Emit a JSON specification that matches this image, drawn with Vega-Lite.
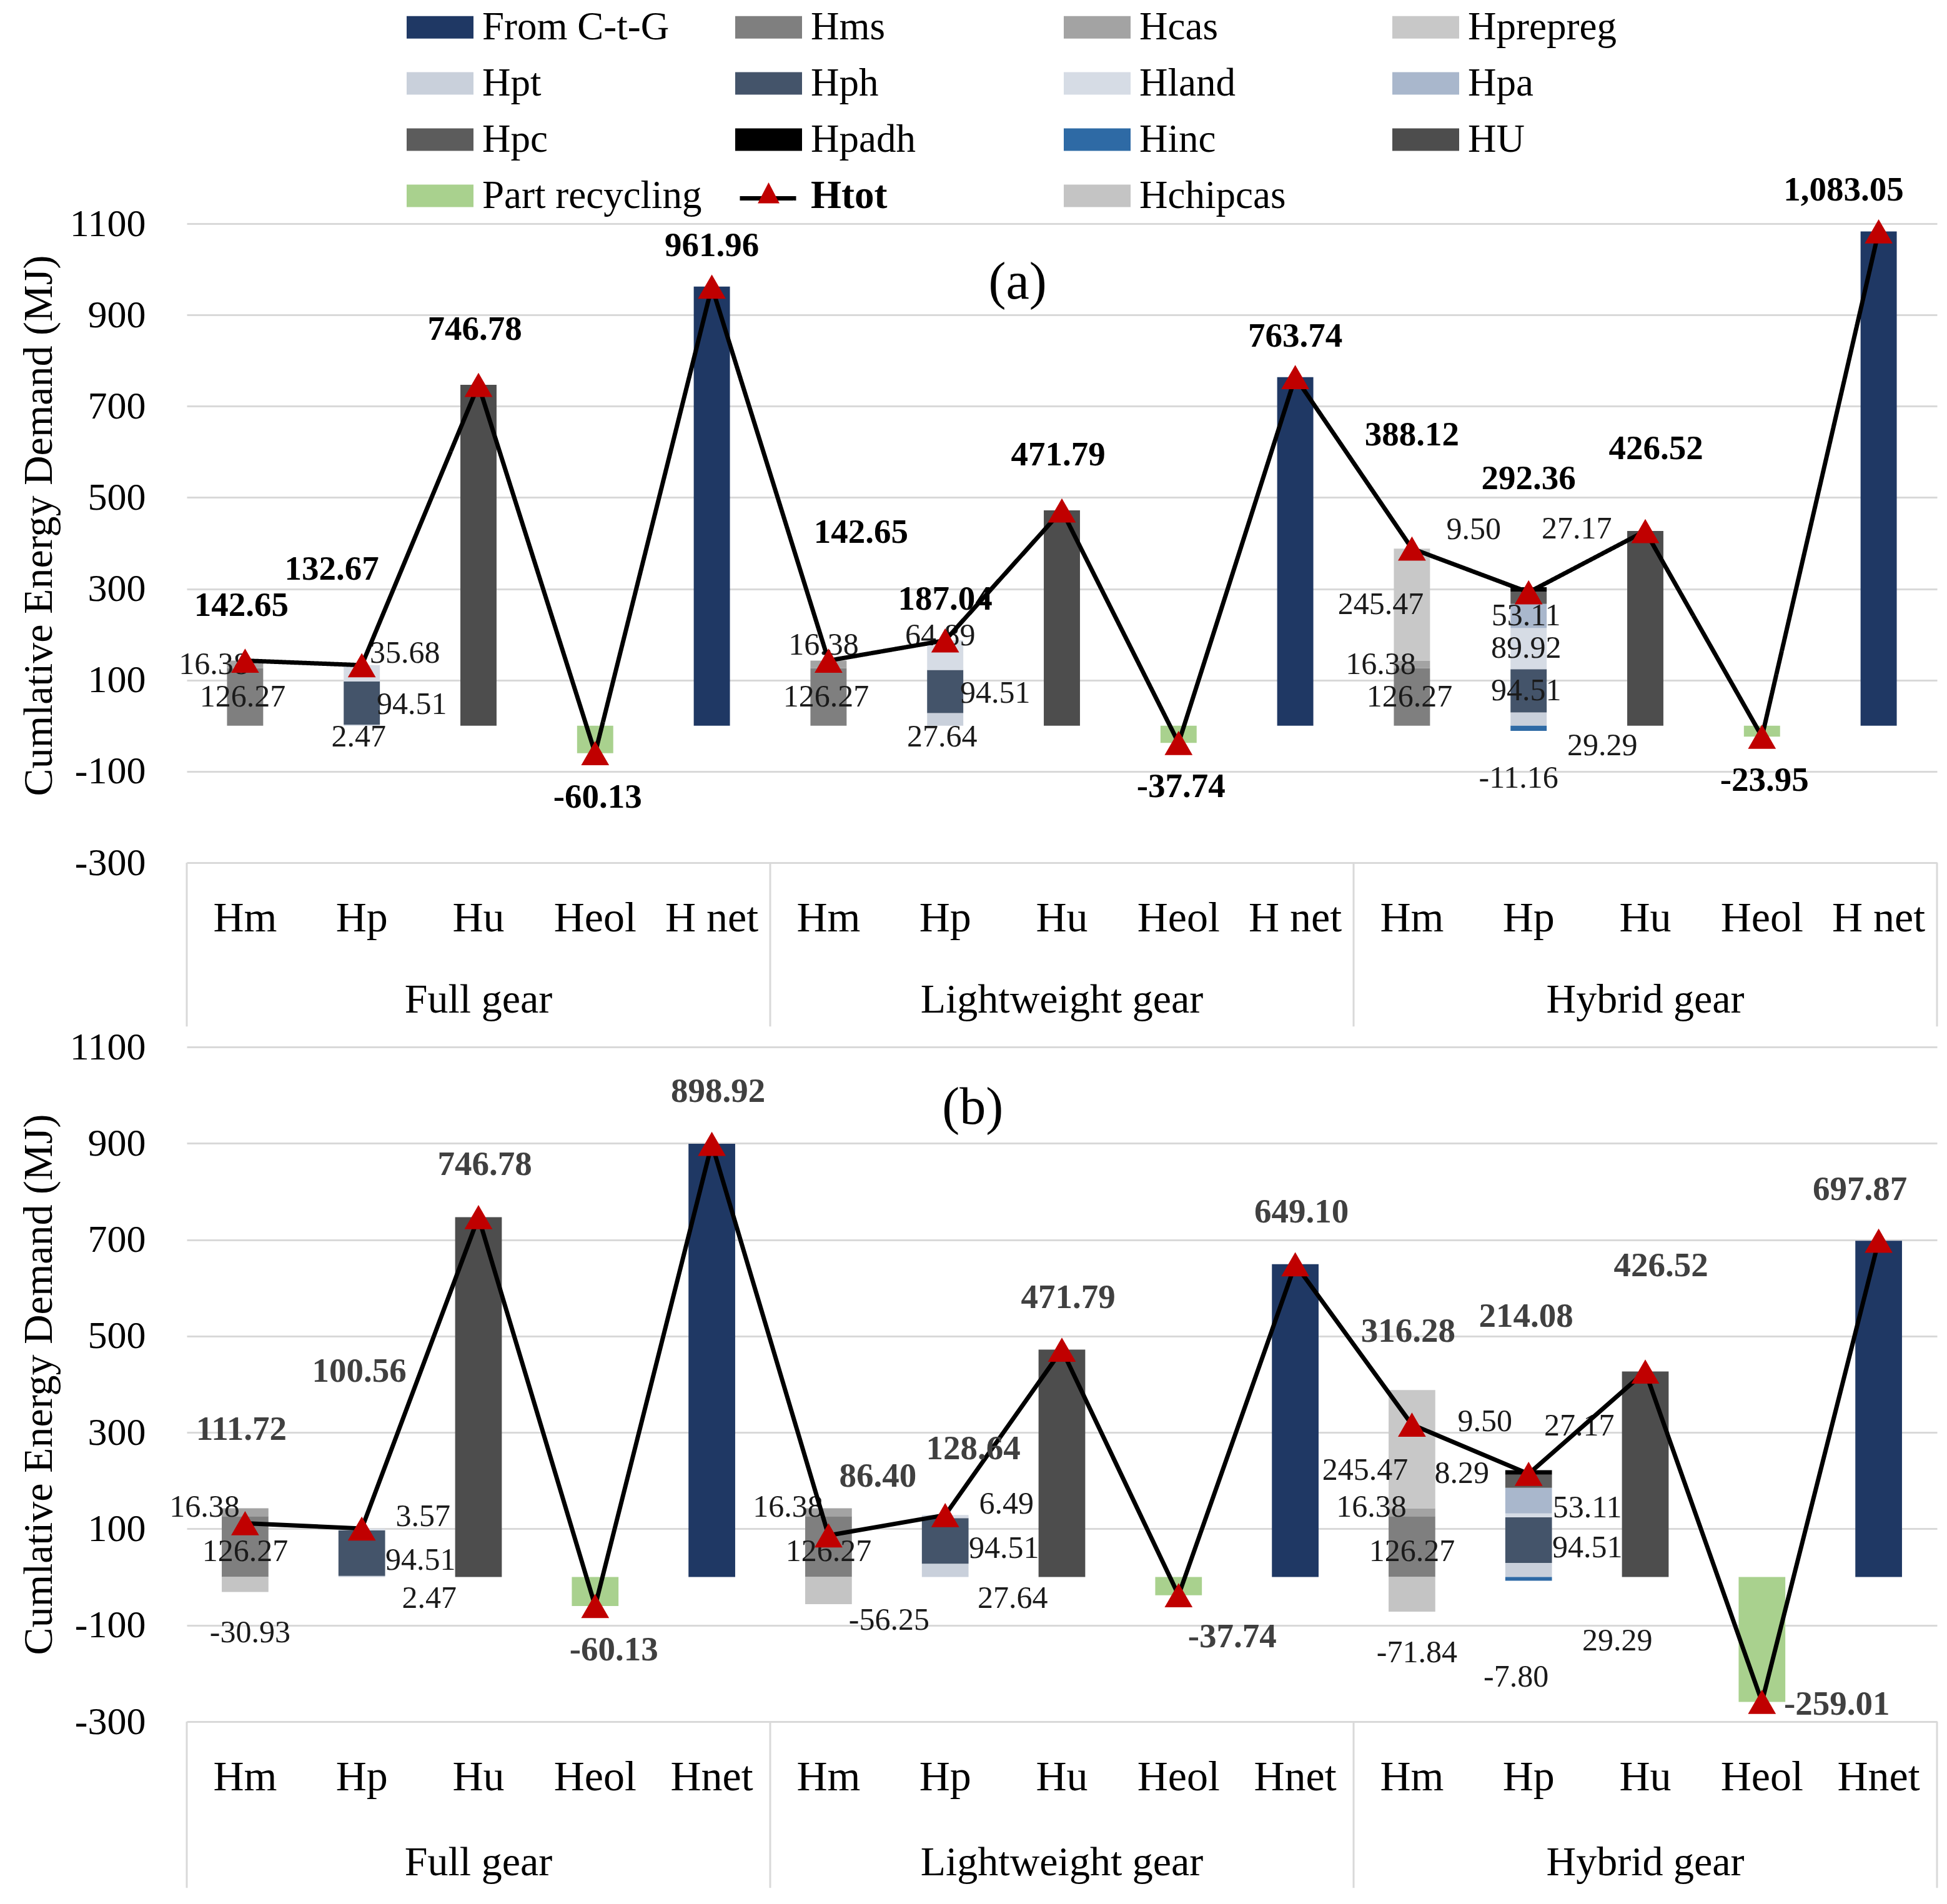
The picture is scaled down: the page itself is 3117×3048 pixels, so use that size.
{
"$schema":"https://vega.github.io/schema/vega-lite/v6.json",
"padding":{"left":29,"top":12,"right":0,"bottom":0},
"background":"#ffffff",
"datasets":{
"comps":[
{"p":"a","cat":"Full gear|Hm","comp":"Hms","v":126.27,"o":1},
{"p":"a","cat":"Full gear|Hm","comp":"Hcas","v":16.38,"o":2},
{"p":"a","cat":"Full gear|Hp","comp":"Hpt","v":2.47,"o":4},
{"p":"a","cat":"Full gear|Hp","comp":"Hph","v":94.51,"o":5},
{"p":"a","cat":"Full gear|Hp","comp":"Hland","v":35.68,"o":6},
{"p":"a","cat":"Full gear|Hu","comp":"HU","v":746.78,"o":11},
{"p":"a","cat":"Full gear|Heol","comp":"Part recycling","v":-60.13,"o":12},
{"p":"a","cat":"Full gear|H net","comp":"From C-t-G","v":961.96,"o":0},
{"p":"a","cat":"Lightweight gear|Hm","comp":"Hms","v":126.27,"o":1},
{"p":"a","cat":"Lightweight gear|Hm","comp":"Hcas","v":16.38,"o":2},
{"p":"a","cat":"Lightweight gear|Hp","comp":"Hpt","v":27.64,"o":4},
{"p":"a","cat":"Lightweight gear|Hp","comp":"Hph","v":94.51,"o":5},
{"p":"a","cat":"Lightweight gear|Hp","comp":"Hland","v":64.89,"o":6},
{"p":"a","cat":"Lightweight gear|Hu","comp":"HU","v":471.79,"o":11},
{"p":"a","cat":"Lightweight gear|Heol","comp":"Part recycling","v":-37.74,"o":12},
{"p":"a","cat":"Lightweight gear|H net","comp":"From C-t-G","v":763.74,"o":0},
{"p":"a","cat":"Hybrid gear|Hm","comp":"Hms","v":126.27,"o":1},
{"p":"a","cat":"Hybrid gear|Hm","comp":"Hcas","v":16.38,"o":2},
{"p":"a","cat":"Hybrid gear|Hm","comp":"Hprepreg","v":245.47,"o":3},
{"p":"a","cat":"Hybrid gear|Hp","comp":"Hpt","v":29.29,"o":4},
{"p":"a","cat":"Hybrid gear|Hp","comp":"Hph","v":94.51,"o":5},
{"p":"a","cat":"Hybrid gear|Hp","comp":"Hland","v":89.92,"o":6},
{"p":"a","cat":"Hybrid gear|Hp","comp":"Hpa","v":53.11,"o":7},
{"p":"a","cat":"Hybrid gear|Hp","comp":"Hpc","v":27.17,"o":8},
{"p":"a","cat":"Hybrid gear|Hp","comp":"Hpadh","v":9.50,"o":9},
{"p":"a","cat":"Hybrid gear|Hp","comp":"Hinc","v":-11.16,"o":10},
{"p":"a","cat":"Hybrid gear|Hu","comp":"HU","v":426.52,"o":11},
{"p":"a","cat":"Hybrid gear|Heol","comp":"Part recycling","v":-23.95,"o":12},
{"p":"a","cat":"Hybrid gear|H net","comp":"From C-t-G","v":1083.05,"o":0},
{"p":"b","cat":"Full gear|Hm","comp":"Hms","v":126.27,"o":1},
{"p":"b","cat":"Full gear|Hm","comp":"Hcas","v":16.38,"o":2},
{"p":"b","cat":"Full gear|Hm","comp":"Hchipcas","v":-30.93,"o":13},
{"p":"b","cat":"Full gear|Hp","comp":"Hpt","v":2.47,"o":4},
{"p":"b","cat":"Full gear|Hp","comp":"Hph","v":94.51,"o":5},
{"p":"b","cat":"Full gear|Hp","comp":"Hland","v":3.57,"o":6},
{"p":"b","cat":"Full gear|Hu","comp":"HU","v":746.78,"o":11},
{"p":"b","cat":"Full gear|Heol","comp":"Part recycling","v":-60.13,"o":12},
{"p":"b","cat":"Full gear|Hnet","comp":"From C-t-G","v":898.92,"o":0},
{"p":"b","cat":"Lightweight gear|Hm","comp":"Hms","v":126.27,"o":1},
{"p":"b","cat":"Lightweight gear|Hm","comp":"Hcas","v":16.38,"o":2},
{"p":"b","cat":"Lightweight gear|Hm","comp":"Hchipcas","v":-56.25,"o":13},
{"p":"b","cat":"Lightweight gear|Hp","comp":"Hpt","v":27.64,"o":4},
{"p":"b","cat":"Lightweight gear|Hp","comp":"Hph","v":94.51,"o":5},
{"p":"b","cat":"Lightweight gear|Hp","comp":"Hland","v":6.49,"o":6},
{"p":"b","cat":"Lightweight gear|Hu","comp":"HU","v":471.79,"o":11},
{"p":"b","cat":"Lightweight gear|Heol","comp":"Part recycling","v":-37.74,"o":12},
{"p":"b","cat":"Lightweight gear|Hnet","comp":"From C-t-G","v":649.10,"o":0},
{"p":"b","cat":"Hybrid gear|Hm","comp":"Hms","v":126.27,"o":1},
{"p":"b","cat":"Hybrid gear|Hm","comp":"Hcas","v":16.38,"o":2},
{"p":"b","cat":"Hybrid gear|Hm","comp":"Hprepreg","v":245.47,"o":3},
{"p":"b","cat":"Hybrid gear|Hm","comp":"Hchipcas","v":-71.84,"o":13},
{"p":"b","cat":"Hybrid gear|Hp","comp":"Hpt","v":29.29,"o":4},
{"p":"b","cat":"Hybrid gear|Hp","comp":"Hph","v":94.51,"o":5},
{"p":"b","cat":"Hybrid gear|Hp","comp":"Hland","v":8.29,"o":6},
{"p":"b","cat":"Hybrid gear|Hp","comp":"Hpa","v":53.11,"o":7},
{"p":"b","cat":"Hybrid gear|Hp","comp":"Hpc","v":27.17,"o":8},
{"p":"b","cat":"Hybrid gear|Hp","comp":"Hpadh","v":9.50,"o":9},
{"p":"b","cat":"Hybrid gear|Hp","comp":"Hinc","v":-7.80,"o":10},
{"p":"b","cat":"Hybrid gear|Hu","comp":"HU","v":426.52,"o":11},
{"p":"b","cat":"Hybrid gear|Heol","comp":"Part recycling","v":-259.01,"o":12},
{"p":"b","cat":"Hybrid gear|Hnet","comp":"From C-t-G","v":697.87,"o":0}
],
"tot":[
{"p":"a","s":"Htot","cat":"Full gear|Hm","v":142.65,"i":0},
{"p":"a","s":"Htot","cat":"Full gear|Hp","v":132.67,"i":1},
{"p":"a","s":"Htot","cat":"Full gear|Hu","v":746.78,"i":2},
{"p":"a","s":"Htot","cat":"Full gear|Heol","v":-60.13,"i":3},
{"p":"a","s":"Htot","cat":"Full gear|H net","v":961.96,"i":4},
{"p":"a","s":"Htot","cat":"Lightweight gear|Hm","v":142.65,"i":5},
{"p":"a","s":"Htot","cat":"Lightweight gear|Hp","v":187.04,"i":6},
{"p":"a","s":"Htot","cat":"Lightweight gear|Hu","v":471.79,"i":7},
{"p":"a","s":"Htot","cat":"Lightweight gear|Heol","v":-37.74,"i":8},
{"p":"a","s":"Htot","cat":"Lightweight gear|H net","v":763.74,"i":9},
{"p":"a","s":"Htot","cat":"Hybrid gear|Hm","v":388.12,"i":10},
{"p":"a","s":"Htot","cat":"Hybrid gear|Hp","v":292.36,"i":11},
{"p":"a","s":"Htot","cat":"Hybrid gear|Hu","v":426.52,"i":12},
{"p":"a","s":"Htot","cat":"Hybrid gear|Heol","v":-23.95,"i":13},
{"p":"a","s":"Htot","cat":"Hybrid gear|H net","v":1083.05,"i":14},
{"p":"b","s":"Htot","cat":"Full gear|Hm","v":111.72,"i":0},
{"p":"b","s":"Htot","cat":"Full gear|Hp","v":100.56,"i":1},
{"p":"b","s":"Htot","cat":"Full gear|Hu","v":746.78,"i":2},
{"p":"b","s":"Htot","cat":"Full gear|Heol","v":-60.13,"i":3},
{"p":"b","s":"Htot","cat":"Full gear|Hnet","v":898.92,"i":4},
{"p":"b","s":"Htot","cat":"Lightweight gear|Hm","v":86.40,"i":5},
{"p":"b","s":"Htot","cat":"Lightweight gear|Hp","v":128.64,"i":6},
{"p":"b","s":"Htot","cat":"Lightweight gear|Hu","v":471.79,"i":7},
{"p":"b","s":"Htot","cat":"Lightweight gear|Heol","v":-37.74,"i":8},
{"p":"b","s":"Htot","cat":"Lightweight gear|Hnet","v":649.10,"i":9},
{"p":"b","s":"Htot","cat":"Hybrid gear|Hm","v":316.28,"i":10},
{"p":"b","s":"Htot","cat":"Hybrid gear|Hp","v":214.08,"i":11},
{"p":"b","s":"Htot","cat":"Hybrid gear|Hu","v":426.52,"i":12},
{"p":"b","s":"Htot","cat":"Hybrid gear|Heol","v":-259.01,"i":13},
{"p":"b","s":"Htot","cat":"Hybrid gear|Hnet","v":697.87,"i":14}
],
"sep":[
{"p":"a","cat":"Full gear|Hm"},{"p":"a","cat":"Lightweight gear|Hm"},{"p":"a","cat":"Hybrid gear|Hm"},
{"p":"b","cat":"Full gear|Hm"},{"p":"b","cat":"Lightweight gear|Hm"},{"p":"b","cat":"Hybrid gear|Hm"}
],
"sepEnd":[{"p":"a","cat":"Hybrid gear|H net"},{"p":"b","cat":"Hybrid gear|Hnet"}],
"grp":[{"g":"Full gear","cat":"Full gear|Hu"},{"g":"Lightweight gear","cat":"Lightweight gear|Hu"},{"g":"Hybrid gear","cat":"Hybrid gear|Hu"}],
"ttl":[{"p":"a","t":"(a)","cat":"Lightweight gear|Hp"},{"p":"b","t":"(b)","cat":"Lightweight gear|Hp"}]
},
"vconcat":[
{
"width":2802,"height":1023,
"encoding":{"x":{"field":"cat","type":"nominal","sort":null,"scale":{"domain":["Full gear|Hm","Full gear|Hp","Full gear|Hu","Full gear|Heol","Full gear|H net","Lightweight gear|Hm","Lightweight gear|Hp","Lightweight gear|Hu","Lightweight gear|Heol","Lightweight gear|H net","Hybrid gear|Hm","Hybrid gear|Hp","Hybrid gear|Hu","Hybrid gear|Heol","Hybrid gear|H net"],"paddingInner":0,"paddingOuter":0},"axis":{"title":null,"domain":false,"ticks":false,"grid":false,"labelAngle":0,"labelExpr":"split(datum.value,'|')[1]","labelFontSize":68,"labelPadding":55,"labelColor":"#000000","labelLimit":0}}},
"layer":[
{"data":{"name":"comps"},"transform":[{"filter":"datum.p==='a'"}],
"layer":[
{"mark":{"type":"bar","width":{"band":0.31}},
"encoding":{
"y":{"field":"v","type":"quantitative","stack":"zero","scale":{"domain":[-300,1100],"nice":false,"zero":false},
"axis":{"title":"Cumlative Energy Demand (MJ)","values":[-300,-100,100,300,500,700,900,1100],"format":"d","domain":false,"ticks":false,"grid":true,"gridColor":"#d9d9d9","gridWidth":3,"labelFontSize":62,"labelPadding":66,"labelColor":"#000000","titleFontSize":66,"titleFontWeight":"normal","titleColor":"#000000","titlePadding":15,"titleY":483}},
"color":{"field":"comp","type":"nominal",
"scale":{"domain":["From C-t-G","Hpt","Hpc","Part recycling","Hms","Hph","Hpadh","Htot","Hcas","Hland","Hinc","Hchipcas","Hprepreg","Hpa","HU"],
"range":["#1f3864","#c9d0db","#5c5c5c","#a9d18e","#7f7f7f","#44546a","#000000","transparent","#a3a3a3","#d6dce5","#2e6aa5","#c4c4c4","#c8c8c8","#a9b7cc","#4d4d4d"]},
"legend":{"orient":"none","legendX":374,"legendY":-346,"columns":4,"title":null,"symbolType":"M-2,-0.67H2V0.67H-2Z","symbolSize":2862,"symbolStrokeWidth":0,"labelFontSize":63,"labelFont":"Liberation Serif","labelColor":"#000000","labelOffset":36,"columnPadding":53,"rowPadding":26,"gridAlign":"all","labelLimit":0,"padding":0,"labelExpr":"datum.label==='Htot'?'':datum.label"}},
"order":{"field":"o","type":"quantitative"}}},
{"mark":{"type":"text","fontSize":50,"color":"#1a1a1a","dx":-4,"dy":0},"encoding":{"y":{"field":"v","type":"quantitative","stack":"zero","bandPosition":0.5,"scale":{"domain":[-300,1100],"nice":false,"zero":false}},"detail":{"field":"comp","type":"nominal"},"order":{"field":"o","type":"quantitative"},"text":{"field":"v","type":"quantitative","format":",.2f"},"opacity":{"condition":{"test":"datum.comp==='Hms' || (datum.cat==='Hybrid gear|Hp' && (datum.comp==='Hph' || datum.comp==='Hland' || datum.comp==='Hpa'))","value":1},"value":0}}},
{"mark":{"type":"text","fontSize":50,"color":"#1a1a1a","dx":-50,"dy":0},"encoding":{"y":{"field":"v","type":"quantitative","stack":"zero","bandPosition":0.5,"scale":{"domain":[-300,1100],"nice":false,"zero":false}},"detail":{"field":"comp","type":"nominal"},"order":{"field":"o","type":"quantitative"},"text":{"field":"v","type":"quantitative","format":",.2f"},"opacity":{"condition":{"test":"(datum.comp==='Hcas' && datum.cat!=='Lightweight gear|Hm') || datum.comp==='Hprepreg'","value":1},"value":0}}},
{"mark":{"type":"text","fontSize":50,"color":"#1a1a1a","dx":-8,"dy":-31},"encoding":{"y":{"field":"v","type":"quantitative","stack":"zero","bandPosition":0.5,"scale":{"domain":[-300,1100],"nice":false,"zero":false}},"detail":{"field":"comp","type":"nominal"},"order":{"field":"o","type":"quantitative"},"text":{"field":"v","type":"quantitative","format":",.2f"},"opacity":{"condition":{"test":"(datum.cat==='Lightweight gear|Hm' && datum.comp==='Hcas') || (datum.cat==='Lightweight gear|Hp' && datum.comp==='Hland')","value":1},"value":0}}},
{"mark":{"type":"text","fontSize":50,"color":"#1a1a1a","dx":80,"dy":3},"encoding":{"y":{"field":"v","type":"quantitative","stack":"zero","bandPosition":0.5,"scale":{"domain":[-300,1100],"nice":false,"zero":false}},"detail":{"field":"comp","type":"nominal"},"order":{"field":"o","type":"quantitative"},"text":{"field":"v","type":"quantitative","format":",.2f"},"opacity":{"condition":{"test":"datum.comp==='Hph' && datum.cat!=='Hybrid gear|Hp'","value":1},"value":0}}},
{"mark":{"type":"text","fontSize":50,"color":"#1a1a1a","dx":69,"dy":-32},"encoding":{"y":{"field":"v","type":"quantitative","stack":"zero","bandPosition":0.5,"scale":{"domain":[-300,1100],"nice":false,"zero":false}},"detail":{"field":"comp","type":"nominal"},"order":{"field":"o","type":"quantitative"},"text":{"field":"v","type":"quantitative","format":",.2f"},"opacity":{"condition":{"test":"datum.cat==='Full gear|Hp' && datum.comp==='Hland'","value":1},"value":0}}},
{"mark":{"type":"text","fontSize":50,"color":"#1a1a1a","dx":-5,"dy":18},"encoding":{"y":{"field":"v","type":"quantitative","stack":"zero","bandPosition":0,"scale":{"domain":[-300,1100],"nice":false,"zero":false}},"detail":{"field":"comp","type":"nominal"},"order":{"field":"o","type":"quantitative"},"text":{"field":"v","type":"quantitative","format":",.2f"},"opacity":{"condition":{"test":"datum.comp==='Hpt' && datum.cat!=='Hybrid gear|Hp'","value":1},"value":0}}},
{"mark":{"type":"text","fontSize":50,"color":"#1a1a1a","dx":118,"dy":32},"encoding":{"y":{"field":"v","type":"quantitative","stack":"zero","bandPosition":0,"scale":{"domain":[-300,1100],"nice":false,"zero":false}},"detail":{"field":"comp","type":"nominal"},"order":{"field":"o","type":"quantitative"},"text":{"field":"v","type":"quantitative","format":",.2f"},"opacity":{"condition":{"test":"datum.comp==='Hpt' && datum.cat==='Hybrid gear|Hp'","value":1},"value":0}}},
{"mark":{"type":"text","fontSize":50,"color":"#1a1a1a","dx":-16,"dy":76},"encoding":{"y":{"field":"v","type":"quantitative","stack":"zero","bandPosition":1,"scale":{"domain":[-300,1100],"nice":false,"zero":false}},"detail":{"field":"comp","type":"nominal"},"order":{"field":"o","type":"quantitative"},"text":{"field":"v","type":"quantitative","format":",.2f"},"opacity":{"condition":{"test":"datum.comp==='Hinc'","value":1},"value":0}}},
{"mark":{"type":"text","fontSize":50,"color":"#1a1a1a","dx":77,"dy":-110},"encoding":{"y":{"field":"v","type":"quantitative","stack":"zero","bandPosition":0.5,"scale":{"domain":[-300,1100],"nice":false,"zero":false}},"detail":{"field":"comp","type":"nominal"},"order":{"field":"o","type":"quantitative"},"text":{"field":"v","type":"quantitative","format":",.2f"},"opacity":{"condition":{"test":"datum.comp==='Hpc'","value":1},"value":0}}},
{"mark":{"type":"text","fontSize":50,"color":"#1a1a1a","dx":-88,"dy":-95},"encoding":{"y":{"field":"v","type":"quantitative","stack":"zero","bandPosition":0.5,"scale":{"domain":[-300,1100],"nice":false,"zero":false}},"detail":{"field":"comp","type":"nominal"},"order":{"field":"o","type":"quantitative"},"text":{"field":"v","type":"quantitative","format":",.2f"},"opacity":{"condition":{"test":"datum.comp==='Hpadh'","value":1},"value":0}}}
]},
{"data":{"name":"tot"},"transform":[{"filter":"datum.p==='a'"}],
"layer":[
{"mark":{"type":"line","color":"#000000","strokeWidth":7},"encoding":{"y":{"field":"v","type":"quantitative","scale":{"domain":[-300,1100],"nice":false,"zero":false}},"order":{"field":"i","type":"quantitative"},"strokeDash":{"field":"s","type":"nominal","scale":{"range":[[1,0]]},"legend":{"orient":"none","legendX":882,"legendY":-89,"title":null,"symbolSize":8100,"symbolStrokeWidth":7,"symbolStrokeColor":"#000000","symbolOpacity":1,"labelExpr":"''","labelFontSize":63,"padding":0}}}},
{"mark":{"type":"point","shape":"triangle-up","filled":true,"size":2000,"color":"#c00000","opacity":1,"strokeWidth":0},"encoding":{"y":{"field":"v","type":"quantitative","scale":{"domain":[-300,1100],"nice":false,"zero":false}}}},
{"mark":{"type":"point","filled":true,"opacity":0,"color":"#c00000"},"encoding":{"y":{"field":"v","type":"quantitative","scale":{"domain":[-300,1100],"nice":false,"zero":false}},"shape":{"field":"s","type":"nominal","scale":{"domain":["Htot"],"range":["M0,-0.8L0.65,0.45H-0.65Z"]},"legend":{"orient":"none","legendX":900,"legendY":-76,"title":null,"symbolSize":2862,"symbolFillColor":"#c00000","symbolStrokeWidth":0,"symbolOpacity":1,"labelFontSize":63,"labelFont":"Liberation Serif","labelFontWeight":"bold","labelColor":"#000000","labelOffset":36,"padding":0}}}},
{"transform":[{"filter":{"field":"cat","oneOf":["Full gear|H net","Lightweight gear|Hp","Lightweight gear|H net"]}}],"mark":{"type":"text","fontSize":55,"fontWeight":"bold","color":"#000000","dx":0,"dy":-66},"encoding":{"y":{"field":"v","type":"quantitative","scale":{"domain":[-300,1100],"nice":false,"zero":false}},"text":{"field":"v","type":"quantitative","format":",.2f"}}},
{"transform":[{"filter":{"field":"cat","oneOf":["Full gear|Hu","Lightweight gear|Hu","Full gear|Hm"]}}],"mark":{"type":"text","fontSize":55,"fontWeight":"bold","color":"#000000","dx":-6,"dy":-89},"encoding":{"y":{"field":"v","type":"quantitative","scale":{"domain":[-300,1100],"nice":false,"zero":false}},"text":{"field":"v","type":"quantitative","format":",.2f"}}},
{"transform":[{"filter":{"field":"cat","oneOf":["Hybrid gear|Hm","Hybrid gear|Hp"]}}],"mark":{"type":"text","fontSize":55,"fontWeight":"bold","color":"#000000","dx":0,"dy":-182},"encoding":{"y":{"field":"v","type":"quantitative","scale":{"domain":[-300,1100],"nice":false,"zero":false}},"text":{"field":"v","type":"quantitative","format":",.2f"}}},
{"transform":[{"filter":{"field":"cat","oneOf":["Full gear|Hp"]}}],"mark":{"type":"text","fontSize":55,"fontWeight":"bold","color":"#000000","dx":-48,"dy":-154},"encoding":{"y":{"field":"v","type":"quantitative","scale":{"domain":[-300,1100],"nice":false,"zero":false}},"text":{"field":"v","type":"quantitative","format":",.2f"}}},
{"transform":[{"filter":{"field":"cat","oneOf":["Lightweight gear|Hm"]}}],"mark":{"type":"text","fontSize":55,"fontWeight":"bold","color":"#000000","dx":52,"dy":-206},"encoding":{"y":{"field":"v","type":"quantitative","scale":{"domain":[-300,1100],"nice":false,"zero":false}},"text":{"field":"v","type":"quantitative","format":",.2f"}}},
{"transform":[{"filter":{"field":"cat","oneOf":["Hybrid gear|Hu"]}}],"mark":{"type":"text","fontSize":55,"fontWeight":"bold","color":"#000000","dx":17,"dy":-132},"encoding":{"y":{"field":"v","type":"quantitative","scale":{"domain":[-300,1100],"nice":false,"zero":false}},"text":{"field":"v","type":"quantitative","format":",.2f"}}},
{"transform":[{"filter":{"field":"cat","oneOf":["Hybrid gear|H net"]}}],"mark":{"type":"text","fontSize":55,"fontWeight":"bold","color":"#000000","dx":-56,"dy":-66},"encoding":{"y":{"field":"v","type":"quantitative","scale":{"domain":[-300,1100],"nice":false,"zero":false}},"text":{"field":"v","type":"quantitative","format":",.2f"}}},
{"transform":[{"filter":{"field":"cat","oneOf":["Full gear|Heol","Lightweight gear|Heol","Hybrid gear|Heol"]}}],"mark":{"type":"text","fontSize":55,"fontWeight":"bold","color":"#000000","dx":4,"dy":70},"encoding":{"y":{"field":"v","type":"quantitative","scale":{"domain":[-300,1100],"nice":false,"zero":false}},"text":{"field":"v","type":"quantitative","format":",.2f"}}}
]},
{"data":{"name":"sep"},"transform":[{"filter":"datum.p==='a'"}],"mark":{"type":"rule","color":"#d9d9d9","strokeWidth":3},"encoding":{"x":{"field":"cat","type":"nominal","bandPosition":0},"y":{"datum":-300,"type":"quantitative","scale":{"domain":[-300,1100],"nice":false,"zero":false}},"y2":{"datum":-659}}},
{"data":{"name":"sepEnd"},"transform":[{"filter":"datum.p==='a'"}],"mark":{"type":"rule","color":"#d9d9d9","strokeWidth":3},"encoding":{"x":{"field":"cat","type":"nominal","bandPosition":1},"y":{"datum":-300,"type":"quantitative","scale":{"domain":[-300,1100],"nice":false,"zero":false}},"y2":{"datum":-659}}},
{"data":{"name":"grp"},"mark":{"type":"text","fontSize":66,"color":"#000000"},"encoding":{"x":{"field":"cat","type":"nominal"},"y":{"datum":-601,"type":"quantitative","scale":{"domain":[-300,1100],"nice":false,"zero":false}},"text":{"field":"g","type":"nominal"}}},
{"data":{"name":"ttl"},"transform":[{"filter":"datum.p==='a'"}],"mark":{"type":"text","fontSize":84,"color":"#000000","dx":116},"encoding":{"x":{"field":"cat","type":"nominal"},"y":{"datum":970,"type":"quantitative","scale":{"domain":[-300,1100],"nice":false,"zero":false}},"text":{"field":"t","type":"nominal"}}}
]
},
{
"width":2802,"height":1080,
"encoding":{"x":{"field":"cat","type":"nominal","sort":null,"scale":{"domain":["Full gear|Hm","Full gear|Hp","Full gear|Hu","Full gear|Heol","Full gear|Hnet","Lightweight gear|Hm","Lightweight gear|Hp","Lightweight gear|Hu","Lightweight gear|Heol","Lightweight gear|Hnet","Hybrid gear|Hm","Hybrid gear|Hp","Hybrid gear|Hu","Hybrid gear|Heol","Hybrid gear|Hnet"],"paddingInner":0,"paddingOuter":0},"axis":{"title":null,"domain":false,"ticks":false,"grid":false,"labelAngle":0,"labelExpr":"split(datum.value,'|')[1]","labelFontSize":68,"labelPadding":55,"labelColor":"#000000","labelLimit":0}}},
"layer":[
{"data":{"name":"comps"},"transform":[{"filter":"datum.p==='b'"}],
"layer":[
{"mark":{"type":"bar","width":{"band":0.4}},
"encoding":{
"y":{"field":"v","type":"quantitative","stack":"zero","scale":{"domain":[-300,1100],"nice":false,"zero":false},
"axis":{"title":"Cumlative Energy Demand (MJ)","values":[-300,-100,100,300,500,700,900,1100],"format":"d","domain":false,"ticks":false,"grid":true,"gridColor":"#d9d9d9","gridWidth":3,"labelFontSize":62,"labelPadding":66,"labelColor":"#000000","titleFontSize":66,"titleFontWeight":"normal","titleColor":"#000000","titlePadding":15}},
"color":{"field":"comp","type":"nominal",
"scale":{"domain":["From C-t-G","Hpt","Hpc","Part recycling","Hms","Hph","Hpadh","Htot","Hcas","Hland","Hinc","Hchipcas","Hprepreg","Hpa","HU"],
"range":["#1f3864","#c9d0db","#5c5c5c","#a9d18e","#7f7f7f","#44546a","#000000","transparent","#a3a3a3","#d6dce5","#2e6aa5","#c4c4c4","#c8c8c8","#a9b7cc","#4d4d4d"]},
"legend":null},
"order":{"field":"o","type":"quantitative"}}},
{"mark":{"type":"text","fontSize":50,"color":"#1a1a1a","dx":0,"dy":8},"encoding":{"y":{"field":"v","type":"quantitative","stack":"zero","bandPosition":0.5,"scale":{"domain":[-300,1100],"nice":false,"zero":false}},"detail":{"field":"comp","type":"nominal"},"order":{"field":"o","type":"quantitative"},"text":{"field":"v","type":"quantitative","format":",.2f"},"opacity":{"condition":{"test":"datum.comp==='Hms'","value":1},"value":0}}},
{"mark":{"type":"text","fontSize":50,"color":"#1a1a1a","dx":-65,"dy":-8},"encoding":{"y":{"field":"v","type":"quantitative","stack":"zero","bandPosition":0.5,"scale":{"domain":[-300,1100],"nice":false,"zero":false}},"detail":{"field":"comp","type":"nominal"},"order":{"field":"o","type":"quantitative"},"text":{"field":"v","type":"quantitative","format":",.2f"},"opacity":{"condition":{"test":"datum.comp==='Hcas'","value":1},"value":0}}},
{"mark":{"type":"text","fontSize":50,"color":"#1a1a1a","dx":-75,"dy":34},"encoding":{"y":{"field":"v","type":"quantitative","stack":"zero","bandPosition":0.5,"scale":{"domain":[-300,1100],"nice":false,"zero":false}},"detail":{"field":"comp","type":"nominal"},"order":{"field":"o","type":"quantitative"},"text":{"field":"v","type":"quantitative","format":",.2f"},"opacity":{"condition":{"test":"datum.comp==='Hprepreg'","value":1},"value":0}}},
{"mark":{"type":"text","fontSize":50,"color":"#1a1a1a","dx":94,"dy":12},"encoding":{"y":{"field":"v","type":"quantitative","stack":"zero","bandPosition":0.5,"scale":{"domain":[-300,1100],"nice":false,"zero":false}},"detail":{"field":"comp","type":"nominal"},"order":{"field":"o","type":"quantitative"},"text":{"field":"v","type":"quantitative","format":",.2f"},"opacity":{"condition":{"test":"datum.comp==='Hph' || datum.comp==='Hpa'","value":1},"value":0}}},
{"mark":{"type":"text","fontSize":50,"color":"#1a1a1a","dx":98,"dy":-20},"encoding":{"y":{"field":"v","type":"quantitative","stack":"zero","bandPosition":0.5,"scale":{"domain":[-300,1100],"nice":false,"zero":false}},"detail":{"field":"comp","type":"nominal"},"order":{"field":"o","type":"quantitative"},"text":{"field":"v","type":"quantitative","format":",.2f"},"opacity":{"condition":{"test":"datum.comp==='Hland' && datum.cat!=='Hybrid gear|Hp'","value":1},"value":0}}},
{"mark":{"type":"text","fontSize":50,"color":"#1a1a1a","dx":8,"dy":66},"encoding":{"y":{"field":"v","type":"quantitative","stack":"zero","bandPosition":1,"scale":{"domain":[-300,1100],"nice":false,"zero":false}},"detail":{"field":"comp","type":"nominal"},"order":{"field":"o","type":"quantitative"},"text":{"field":"v","type":"quantitative","format":",.2f"},"opacity":{"condition":{"test":"datum.comp==='Hchipcas' && datum.cat!=='Lightweight gear|Hm'","value":1},"value":0}}},
{"mark":{"type":"text","fontSize":50,"color":"#1a1a1a","dx":97,"dy":26},"encoding":{"y":{"field":"v","type":"quantitative","stack":"zero","bandPosition":1,"scale":{"domain":[-300,1100],"nice":false,"zero":false}},"detail":{"field":"comp","type":"nominal"},"order":{"field":"o","type":"quantitative"},"text":{"field":"v","type":"quantitative","format":",.2f"},"opacity":{"condition":{"test":"datum.comp==='Hchipcas' && datum.cat==='Lightweight gear|Hm'","value":1},"value":0}}},
{"mark":{"type":"text","fontSize":50,"color":"#1a1a1a","dx":-20,"dy":154},"encoding":{"y":{"field":"v","type":"quantitative","stack":"zero","bandPosition":1,"scale":{"domain":[-300,1100],"nice":false,"zero":false}},"detail":{"field":"comp","type":"nominal"},"order":{"field":"o","type":"quantitative"},"text":{"field":"v","type":"quantitative","format":",.2f"},"opacity":{"condition":{"test":"datum.comp==='Hinc'","value":1},"value":0}}},
{"mark":{"type":"text","fontSize":50,"color":"#1a1a1a","dx":108,"dy":34},"encoding":{"y":{"field":"v","type":"quantitative","stack":"zero","bandPosition":0,"scale":{"domain":[-300,1100],"nice":false,"zero":false}},"detail":{"field":"comp","type":"nominal"},"order":{"field":"o","type":"quantitative"},"text":{"field":"v","type":"quantitative","format":",.2f"},"opacity":{"condition":{"test":"datum.comp==='Hpt' && datum.cat!=='Hybrid gear|Hp'","value":1},"value":0}}},
{"mark":{"type":"text","fontSize":50,"color":"#1a1a1a","dx":142,"dy":102},"encoding":{"y":{"field":"v","type":"quantitative","stack":"zero","bandPosition":0,"scale":{"domain":[-300,1100],"nice":false,"zero":false}},"detail":{"field":"comp","type":"nominal"},"order":{"field":"o","type":"quantitative"},"text":{"field":"v","type":"quantitative","format":",.2f"},"opacity":{"condition":{"test":"datum.comp==='Hpt' && datum.cat==='Hybrid gear|Hp'","value":1},"value":0}}},
{"mark":{"type":"text","fontSize":50,"color":"#1a1a1a","dx":-107,"dy":-67},"encoding":{"y":{"field":"v","type":"quantitative","stack":"zero","bandPosition":0.5,"scale":{"domain":[-300,1100],"nice":false,"zero":false}},"detail":{"field":"comp","type":"nominal"},"order":{"field":"o","type":"quantitative"},"text":{"field":"v","type":"quantitative","format":",.2f"},"opacity":{"condition":{"test":"datum.comp==='Hland' && datum.cat==='Hybrid gear|Hp'","value":1},"value":0}}},
{"mark":{"type":"text","fontSize":50,"color":"#1a1a1a","dx":81,"dy":-88},"encoding":{"y":{"field":"v","type":"quantitative","stack":"zero","bandPosition":0.5,"scale":{"domain":[-300,1100],"nice":false,"zero":false}},"detail":{"field":"comp","type":"nominal"},"order":{"field":"o","type":"quantitative"},"text":{"field":"v","type":"quantitative","format":",.2f"},"opacity":{"condition":{"test":"datum.comp==='Hpc'","value":1},"value":0}}},
{"mark":{"type":"text","fontSize":50,"color":"#1a1a1a","dx":-70,"dy":-81},"encoding":{"y":{"field":"v","type":"quantitative","stack":"zero","bandPosition":0.5,"scale":{"domain":[-300,1100],"nice":false,"zero":false}},"detail":{"field":"comp","type":"nominal"},"order":{"field":"o","type":"quantitative"},"text":{"field":"v","type":"quantitative","format":",.2f"},"opacity":{"condition":{"test":"datum.comp==='Hpadh'","value":1},"value":0}}}
]},
{"data":{"name":"tot"},"transform":[{"filter":"datum.p==='b'"}],
"layer":[
{"mark":{"type":"line","color":"#000000","strokeWidth":7},"encoding":{"y":{"field":"v","type":"quantitative","scale":{"domain":[-300,1100],"nice":false,"zero":false}},"order":{"field":"i","type":"quantitative"}}},
{"mark":{"type":"point","shape":"triangle-up","filled":true,"size":2000,"color":"#c00000","opacity":1,"strokeWidth":0},"encoding":{"y":{"field":"v","type":"quantitative","scale":{"domain":[-300,1100],"nice":false,"zero":false}}}},
{"transform":[{"filter":{"field":"cat","oneOf":["Full gear|Hu","Full gear|Hnet","Lightweight gear|Hu","Lightweight gear|Hnet"]}}],"mark":{"type":"text","fontSize":55,"fontWeight":"bold","color":"#404040","dx":10,"dy":-84},"encoding":{"y":{"field":"v","type":"quantitative","scale":{"domain":[-300,1100],"nice":false,"zero":false}},"text":{"field":"v","type":"quantitative","format":",.2f"}}},
{"transform":[{"filter":{"field":"cat","oneOf":["Full gear|Hm","Hybrid gear|Hm"]}}],"mark":{"type":"text","fontSize":55,"fontWeight":"bold","color":"#404040","dx":-6,"dy":-150},"encoding":{"y":{"field":"v","type":"quantitative","scale":{"domain":[-300,1100],"nice":false,"zero":false}},"text":{"field":"v","type":"quantitative","format":",.2f"}}},
{"transform":[{"filter":{"field":"cat","oneOf":["Full gear|Hp","Hybrid gear|Hp"]}}],"mark":{"type":"text","fontSize":55,"fontWeight":"bold","color":"#404040","dx":-4,"dy":-252},"encoding":{"y":{"field":"v","type":"quantitative","scale":{"domain":[-300,1100],"nice":false,"zero":false}},"text":{"field":"v","type":"quantitative","format":",.2f"}}},
{"transform":[{"filter":{"field":"cat","oneOf":["Lightweight gear|Hm"]}}],"mark":{"type":"text","fontSize":55,"fontWeight":"bold","color":"#404040","dx":79,"dy":-95},"encoding":{"y":{"field":"v","type":"quantitative","scale":{"domain":[-300,1100],"nice":false,"zero":false}},"text":{"field":"v","type":"quantitative","format":",.2f"}}},
{"transform":[{"filter":{"field":"cat","oneOf":["Lightweight gear|Hp"]}}],"mark":{"type":"text","fontSize":55,"fontWeight":"bold","color":"#404040","dx":45,"dy":-106},"encoding":{"y":{"field":"v","type":"quantitative","scale":{"domain":[-300,1100],"nice":false,"zero":false}},"text":{"field":"v","type":"quantitative","format":",.2f"}}},
{"transform":[{"filter":{"field":"cat","oneOf":["Hybrid gear|Hu"]}}],"mark":{"type":"text","fontSize":55,"fontWeight":"bold","color":"#404040","dx":25,"dy":-170},"encoding":{"y":{"field":"v","type":"quantitative","scale":{"domain":[-300,1100],"nice":false,"zero":false}},"text":{"field":"v","type":"quantitative","format":",.2f"}}},
{"transform":[{"filter":{"field":"cat","oneOf":["Hybrid gear|Hnet"]}}],"mark":{"type":"text","fontSize":55,"fontWeight":"bold","color":"#404040","dx":-30,"dy":-82},"encoding":{"y":{"field":"v","type":"quantitative","scale":{"domain":[-300,1100],"nice":false,"zero":false}},"text":{"field":"v","type":"quantitative","format":",.2f"}}},
{"transform":[{"filter":{"field":"cat","oneOf":["Full gear|Heol"]}}],"mark":{"type":"text","fontSize":55,"fontWeight":"bold","color":"#404040","dx":30,"dy":70},"encoding":{"y":{"field":"v","type":"quantitative","scale":{"domain":[-300,1100],"nice":false,"zero":false}},"text":{"field":"v","type":"quantitative","format":",.2f"}}},
{"transform":[{"filter":{"field":"cat","oneOf":["Lightweight gear|Heol"]}}],"mark":{"type":"text","fontSize":55,"fontWeight":"bold","color":"#404040","dx":86,"dy":66},"encoding":{"y":{"field":"v","type":"quantitative","scale":{"domain":[-300,1100],"nice":false,"zero":false}},"text":{"field":"v","type":"quantitative","format":",.2f"}}},
{"transform":[{"filter":{"field":"cat","oneOf":["Hybrid gear|Heol"]}}],"mark":{"type":"text","fontSize":55,"fontWeight":"bold","color":"#404040","dx":120,"dy":4},"encoding":{"y":{"field":"v","type":"quantitative","scale":{"domain":[-300,1100],"nice":false,"zero":false}},"text":{"field":"v","type":"quantitative","format":",.2f"}}}
]},
{"data":{"name":"sep"},"transform":[{"filter":"datum.p==='b'"}],"mark":{"type":"rule","color":"#d9d9d9","strokeWidth":3},"encoding":{"x":{"field":"cat","type":"nominal","bandPosition":0},"y":{"datum":-300,"type":"quantitative","scale":{"domain":[-300,1100],"nice":false,"zero":false}},"y2":{"datum":-645}}},
{"data":{"name":"sepEnd"},"transform":[{"filter":"datum.p==='b'"}],"mark":{"type":"rule","color":"#d9d9d9","strokeWidth":3},"encoding":{"x":{"field":"cat","type":"nominal","bandPosition":1},"y":{"datum":-300,"type":"quantitative","scale":{"domain":[-300,1100],"nice":false,"zero":false}},"y2":{"datum":-645}}},
{"data":{"name":"grp"},"mark":{"type":"text","fontSize":66,"color":"#000000"},"encoding":{"x":{"field":"cat","type":"nominal"},"y":{"datum":-593,"type":"quantitative","scale":{"domain":[-300,1100],"nice":false,"zero":false}},"text":{"field":"g","type":"nominal"}}},
{"data":{"name":"ttl"},"transform":[{"filter":"datum.p==='b'"}],"mark":{"type":"text","fontSize":84,"color":"#000000","dx":44},"encoding":{"x":{"field":"cat","type":"nominal"},"y":{"datum":973,"type":"quantitative","scale":{"domain":[-300,1100],"nice":false,"zero":false}},"text":{"field":"t","type":"nominal"}}}
]
}
],
"spacing":0,
"resolve":{"scale":{"color":"independent"},"legend":{"color":"independent"}},
"config":{
"font":"Liberation Serif",
"view":{"stroke":null},
"locale":{"number":{"decimal":".","thousands":",","grouping":[3],"currency":["$",""],"minus":"-"}},
"text":{"font":"Liberation Serif"},
"axis":{"labelFont":"Liberation Serif","titleFont":"Liberation Serif"},
"legend":{"labelFont":"Liberation Serif"}
}
}
